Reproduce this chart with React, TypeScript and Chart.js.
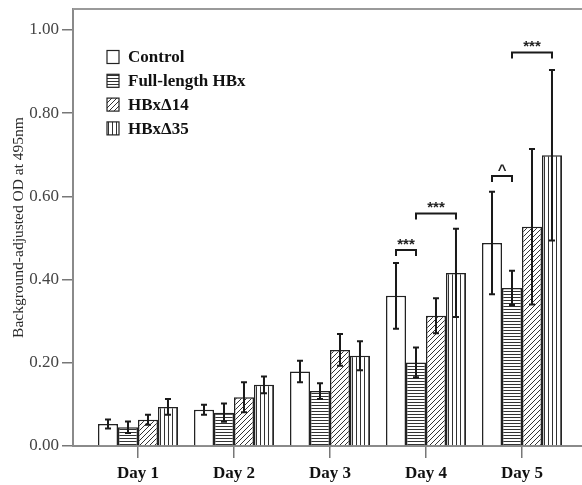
import React, { useEffect, useRef } from "react";
import { Chart, registerables } from "chart.js";

Chart.register(...registerables);

const categories = ["Day 1", "Day 2", "Day 3", "Day 4", "Day 5"];
const seriesNames = ["Control", "Full-length HBx", "HBxΔ14", "HBxΔ35"];

const controlMean = [0.053, 0.087, 0.179, 0.361, 0.488];
const controlErr = [0.011, 0.012, 0.026, 0.079, 0.123];
const fullMean = [0.045, 0.080, 0.132, 0.201, 0.380];
const fullErr = [0.014, 0.022, 0.019, 0.036, 0.041];
const d14Mean = [0.063, 0.117, 0.231, 0.313, 0.527];
const d14Err = [0.012, 0.036, 0.038, 0.042, 0.187];
const d35Mean = [0.094, 0.147, 0.217, 0.416, 0.699];
const d35Err = [0.019, 0.020, 0.035, 0.106, 0.205];

const yTicks = [0, 0.2, 0.4, 0.6, 0.8, 1.0];
const yTitle = "Background-adjusted OD at 495nm";

// significance brackets: day index, from series, to series, bracket level, label
const sigDay = [3, 3, 4, 4];
const sigFrom = [0, 1, 0, 1];
const sigTo = [1, 3, 1, 3];
const sigLevel = [0.471, 0.559, 0.649, 0.946];
const sigLabel = ["***", "***", "^", "***"];

const means = [controlMean, fullMean, d14Mean, d35Mean];
const errs = [controlErr, fullErr, d14Err, d35Err];
const patternKinds = ["none", "horiz", "diag", "vert"];

const SERIF = "'Liberation Serif', 'Times New Roman', serif";
const SANS = "'Liberation Sans', Arial, sans-serif";

function makePattern(kind: string): any {
  if (kind === "none") return "#ffffff";
  const size = kind === "diag" ? 5 : kind === "vert" ? 4 : 3;
  const c = document.createElement("canvas");
  c.width = size;
  c.height = size;
  const g = c.getContext("2d")!;
  g.fillStyle = "#ffffff";
  g.fillRect(0, 0, size, size);
  g.strokeStyle = "#333333";
  g.lineWidth = 1;
  g.beginPath();
  if (kind === "horiz") {
    g.moveTo(0, 0.5);
    g.lineTo(size, 0.5);
  } else if (kind === "vert") {
    g.moveTo(0.5, 0);
    g.lineTo(0.5, size);
  } else {
    g.moveTo(0, size);
    g.lineTo(size, 0);
    g.moveTo(-1, 1);
    g.lineTo(1, -1);
    g.moveTo(size - 1, size + 1);
    g.lineTo(size + 1, size - 1);
  }
  g.stroke();
  return g.createPattern(c, "repeat");
}

export default function App() {
  const ref = useRef<HTMLCanvasElement | null>(null);

  useEffect(() => {
    if (!ref.current) return;
    const fills = patternKinds.map(makePattern);

    const overlay = {
      id: "overlay",
      afterDatasetsDraw(chart: any) {
        const ctx = chart.ctx as CanvasRenderingContext2D;
        const ys = chart.scales.y;
        const area = chart.chartArea;
        ctx.save();
        // top frame line
        ctx.strokeStyle = "#9a9a9a";
        ctx.lineWidth = 2;
        ctx.beginPath();
        ctx.moveTo(area.left, area.top);
        ctx.lineTo(area.right, area.top);
        ctx.stroke();

        // error bars
        ctx.strokeStyle = "#1a1a1a";
        ctx.lineWidth = 2;
        errs.forEach((errArr, di) => {
          const meta = chart.getDatasetMeta(di);
          meta.data.forEach((el: any, j: number) => {
            const v = means[di][j];
            const e = errArr[j];
            const yt = ys.getPixelForValue(v + e);
            const yb = ys.getPixelForValue(v - e);
            ctx.beginPath();
            ctx.moveTo(el.x, yt);
            ctx.lineTo(el.x, yb);
            ctx.moveTo(el.x - 3, yt);
            ctx.lineTo(el.x + 3, yt);
            ctx.moveTo(el.x - 3, yb);
            ctx.lineTo(el.x + 3, yb);
            ctx.stroke();
          });
        });

        // significance brackets
        sigDay.forEach((day, k) => {
          const xa = chart.getDatasetMeta(sigFrom[k]).data[day].x;
          const xb = chart.getDatasetMeta(sigTo[k]).data[day].x;
          const yl = ys.getPixelForValue(sigLevel[k]);
          ctx.strokeStyle = "#1a1a1a";
          ctx.lineWidth = 2;
          ctx.beginPath();
          ctx.moveTo(xa, yl + 6);
          ctx.lineTo(xa, yl);
          ctx.lineTo(xb, yl);
          ctx.lineTo(xb, yl + 6);
          ctx.stroke();
          ctx.fillStyle = "#222222";
          ctx.font = "bold 15px " + SANS;
          ctx.textAlign = "center";
          ctx.textBaseline = "alphabetic";
          ctx.fillText(sigLabel[k], (xa + xb) / 2, yl - 1);
        });

        // legend
        const lx = area.left + 34;
        const ly0 = area.top + 48;
        seriesNames.forEach((name, i) => {
          const cy = ly0 + i * 23.8;
          ctx.fillStyle = fills[i];
          ctx.fillRect(lx, cy - 6.5, 12, 13);
          ctx.strokeStyle = "#222222";
          ctx.lineWidth = 1.2;
          ctx.strokeRect(lx, cy - 6.5, 12, 13);
          ctx.fillStyle = "#111111";
          ctx.font = "bold 17px " + SERIF;
          ctx.textAlign = "left";
          ctx.textBaseline = "middle";
          ctx.fillText(name, lx + 21, cy + 1);
        });
        ctx.restore();
      },
    };

    const chart = new Chart(ref.current, {
      type: "bar",
      data: {
        datasets: seriesNames.map((name, i) => ({
          label: name,
          data: means[i].map((v, j) => ({ x: j + 1, y: v })),
          backgroundColor: fills[i],
          borderColor: "#222222",
          borderWidth: 1.5,
          categoryPercentage: 0.833,
          barPercentage: 1.0,
        })),
      },
      options: {
        animation: false,
        responsive: false,
        layout: { padding: { top: 9, right: 0, left: 0, bottom: 0 } },
        plugins: {
          legend: { display: false },
          tooltip: { enabled: false },
        },
        scales: {
          x: {
            type: "linear",
            min: 0.323,
            max: 5.625,
            offset: false,
            grid: {
              offset: false,
              drawOnChartArea: false,
              drawTicks: true,
              tickLength: 12,
              color: "#777777",
              lineWidth: 1.5,
            },
            border: { display: true, color: "#8a8a8a", width: 2 },
            afterBuildTicks: (scale: any) => {
              scale.ticks = categories.map((_, i) => ({ value: i + 1 }));
            },
            afterFit: (scale: any) => {
              scale.height = 39;
              scale.paddingLeft = 0;
              scale.paddingRight = 0;
            },
            ticks: {
              autoSkip: false,
              maxRotation: 0,
              padding: 5,
              color: "#111111",
              font: { family: SERIF, size: 17, weight: "bold" },
              callback: (value: any) => categories[Math.round(Number(value)) - 1] ?? "",
            },
          },
          y: {
            min: 0,
            max: 1.0505,
            grid: {
              drawOnChartArea: false,
              drawTicks: true,
              tickLength: 11,
              color: "#777777",
              lineWidth: 1.5,
            },
            border: { display: true, color: "#8a8a8a", width: 2 },
            afterBuildTicks: (scale: any) => {
              scale.ticks = yTicks.map((v) => ({ value: v }));
            },
            afterFit: (scale: any) => {
              scale.width = 73;
              scale.paddingTop = 0;
              scale.paddingBottom = 0;
            },
            ticks: {
              padding: 3,
              color: "#444444",
              font: { family: SERIF, size: 17 },
              callback: (value: any) => Number(value).toFixed(2),
            },
            title: {
              display: true,
              text: yTitle,
              color: "#2a2a2a",
              font: { family: SERIF, size: 15.5 },
              padding: { top: 10, bottom: 0 },
            },
          },
        },
      },
      plugins: [overlay],
    } as any);

    return () => chart.destroy();
  }, []);

  return (
    <div
      style={{
        position: "fixed",
        left: 0,
        top: 0,
        width: 582,
        height: 485,
        background: "#ffffff",
      }}
    >
      <canvas ref={ref} width={582} height={485} />
    </div>
  );
}
